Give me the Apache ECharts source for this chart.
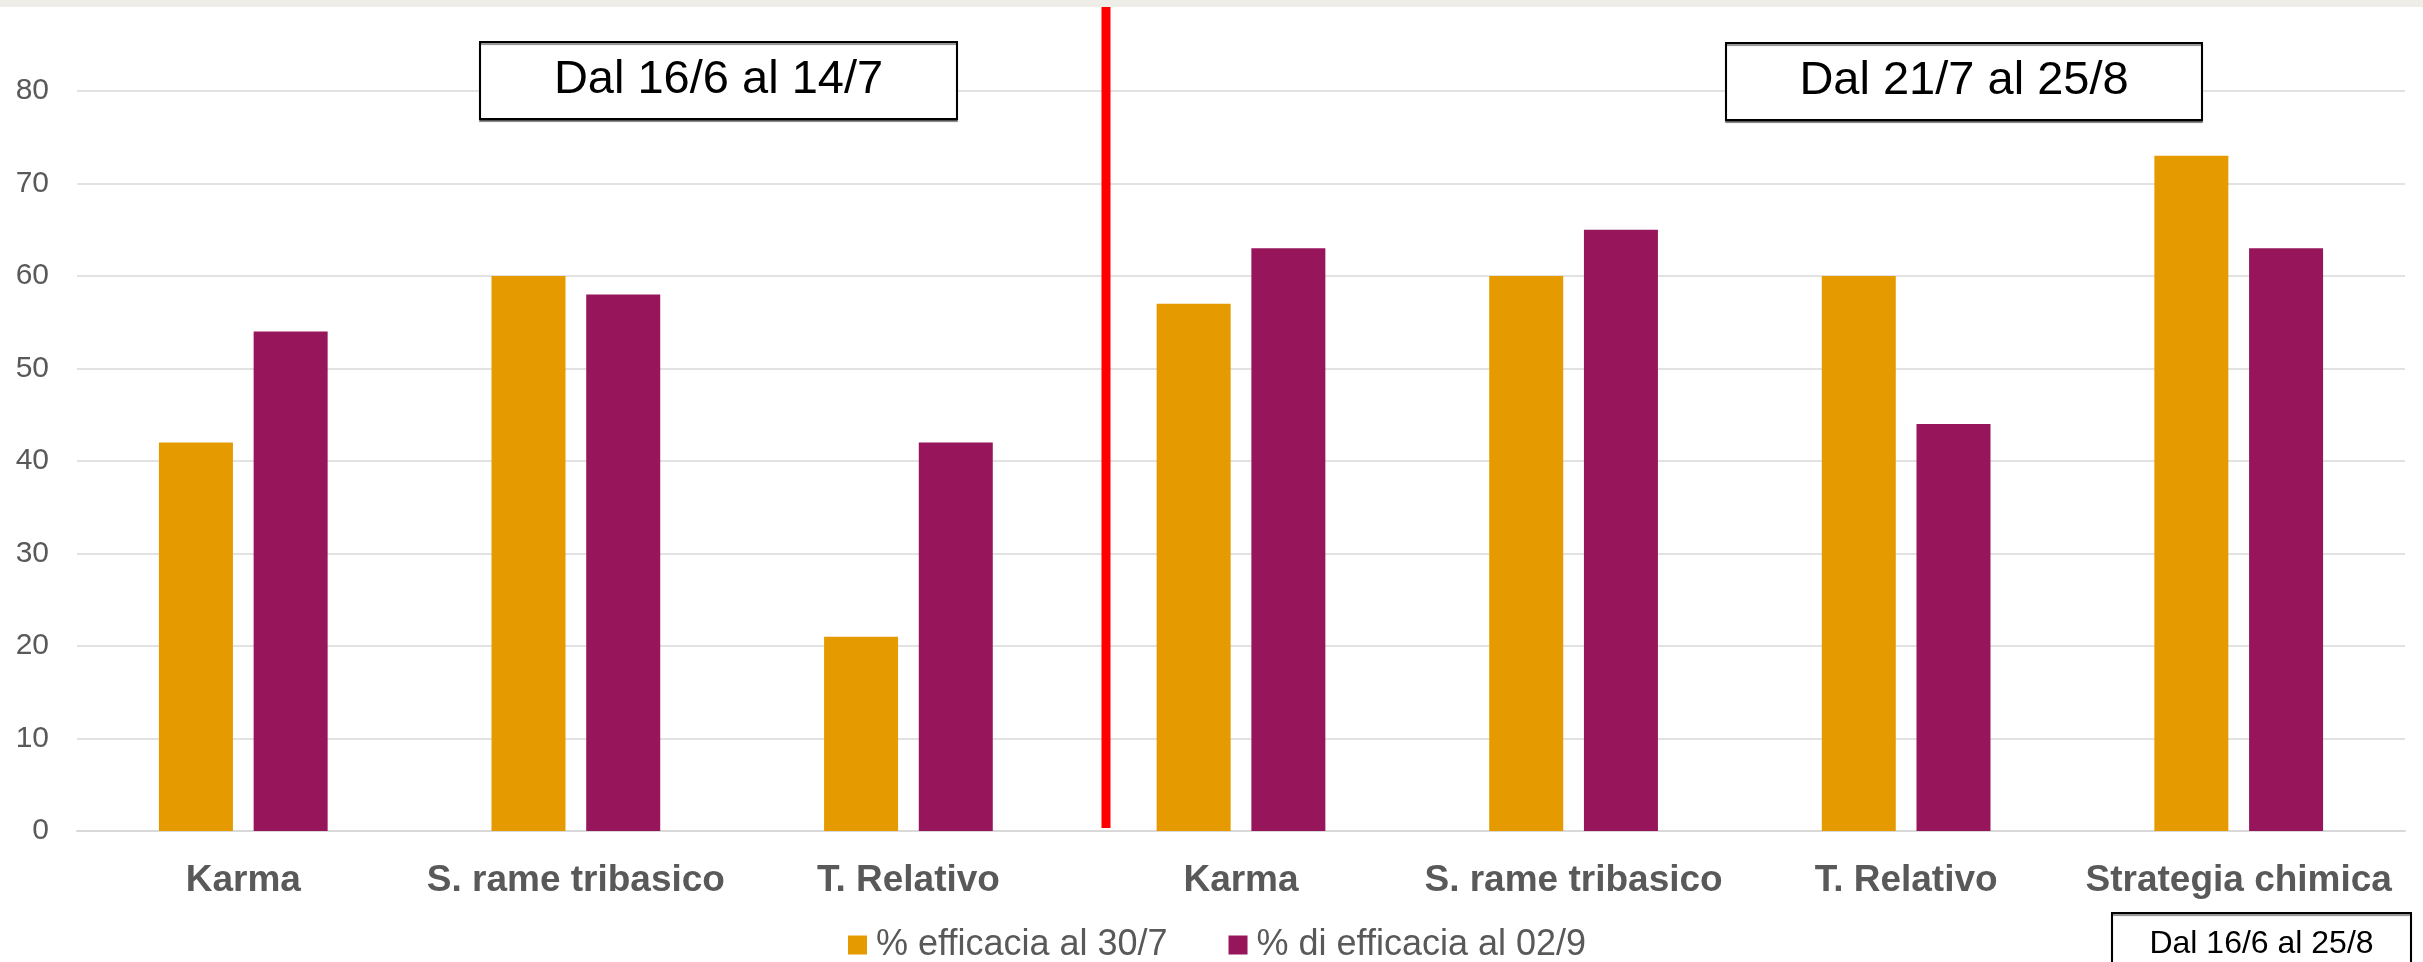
<!DOCTYPE html>
<html>
<head>
<meta charset="utf-8">
<script src="https://cdn.jsdelivr.net/npm/echarts@6/dist/echarts.min.js"></script>
<style>
html,body{margin:0;padding:0;background:#fff;}
#c{width:2423px;height:962px;}
</style>
</head>
<body>
<div id="c"></div>
<script>
const categories = ['Karma', 'S. rame tribasico', 'T. Relativo', 'Karma', 'S. rame tribasico', 'T. Relativo', 'Strategia chimica'];
const seriesNames = ['% efficacia al 30/7', '% di efficacia al 02/9'];
const efficacia307 = [42, 60, 21, 57, 60, 60, 73];
const efficacia029 = [54, 58, 42, 63, 65, 44, 63];
const boxLabels = ['Dal 16/6 al 14/7', 'Dal 21/7 al 25/8', 'Dal 16/6 al 25/8'];

const FONT = '"Liberation Sans", Arial, sans-serif';
const chart = echarts.init(document.getElementById('c'), null, {renderer: 'canvas'});

function box(x, y, w, h, text, fs) {
  return {
    type: 'group', z: 100,
    children: [
      {type: 'rect', z: 100, shape: {x: x, y: y, width: w, height: h},
       style: {fill: '#fff', stroke: '#000', lineWidth: 2, shadowColor: 'rgba(0,0,0,0.45)', shadowOffsetY: 2, shadowBlur: 1}},
      {type: 'text', z: 101, x: x + w / 2, y: y + h / 2,
       style: {text: text, fill: '#000', font: fs + 'px ' + FONT, align: 'center', verticalAlign: 'middle'}}
    ]
  };
}

chart.setOption({
  backgroundColor: '#fff',
  animation: false,
  grid: {left: 77, right: 18, top: 91, bottom: 131, containLabel: false},
  legend: {
    data: seriesNames,
    left: 843, top: 922,
    itemWidth: 19, itemHeight: 19, itemGap: 61,
    icon: 'rect',
    textStyle: {fontFamily: FONT, fontSize: 36, color: '#595959', padding: [0, 0, 0, 4]}
  },
  xAxis: {
    type: 'category',
    data: categories,
    axisLine: {show: true, lineStyle: {color: '#d9d9d9', width: 2}},
    axisTick: {show: false},
    axisLabel: {fontFamily: FONT, fontSize: 37, fontWeight: 'bold', color: '#595959', margin: 31, interval: 0}
  },
  yAxis: {
    type: 'value', min: 0, max: 80, interval: 10,
    axisLine: {show: false}, axisTick: {show: false},
    axisLabel: {fontFamily: FONT, fontSize: 30, color: '#595959', margin: 28},
    splitLine: {lineStyle: {color: '#d9d9d9', width: 1.5}}
  },
  series: [
    {name: seriesNames[0], type: 'bar', data: efficacia307, barWidth: 74, barGap: '28%',
     itemStyle: {color: '#E59B00'}},
    {name: seriesNames[1], type: 'bar', data: efficacia029, barWidth: 74,
     itemStyle: {color: '#97165B'}}
  ],
  graphic: [
    {type: 'rect', z: 90, shape: {x: 0, y: 0, width: 2423, height: 7}, style: {fill: '#eeede8'}},
    {type: 'line', z: 95, shape: {x1: 1106, y1: 7, x2: 1106, y2: 828}, style: {stroke: '#ff0000', lineWidth: 9}},
    box(480, 42, 477, 77, boxLabels[0], 47),
    box(1726, 43, 476, 77, boxLabels[1], 47),
    box(2112, 913, 299, 62, boxLabels[2], 32)
  ]
});
</script>
</body>
</html>
